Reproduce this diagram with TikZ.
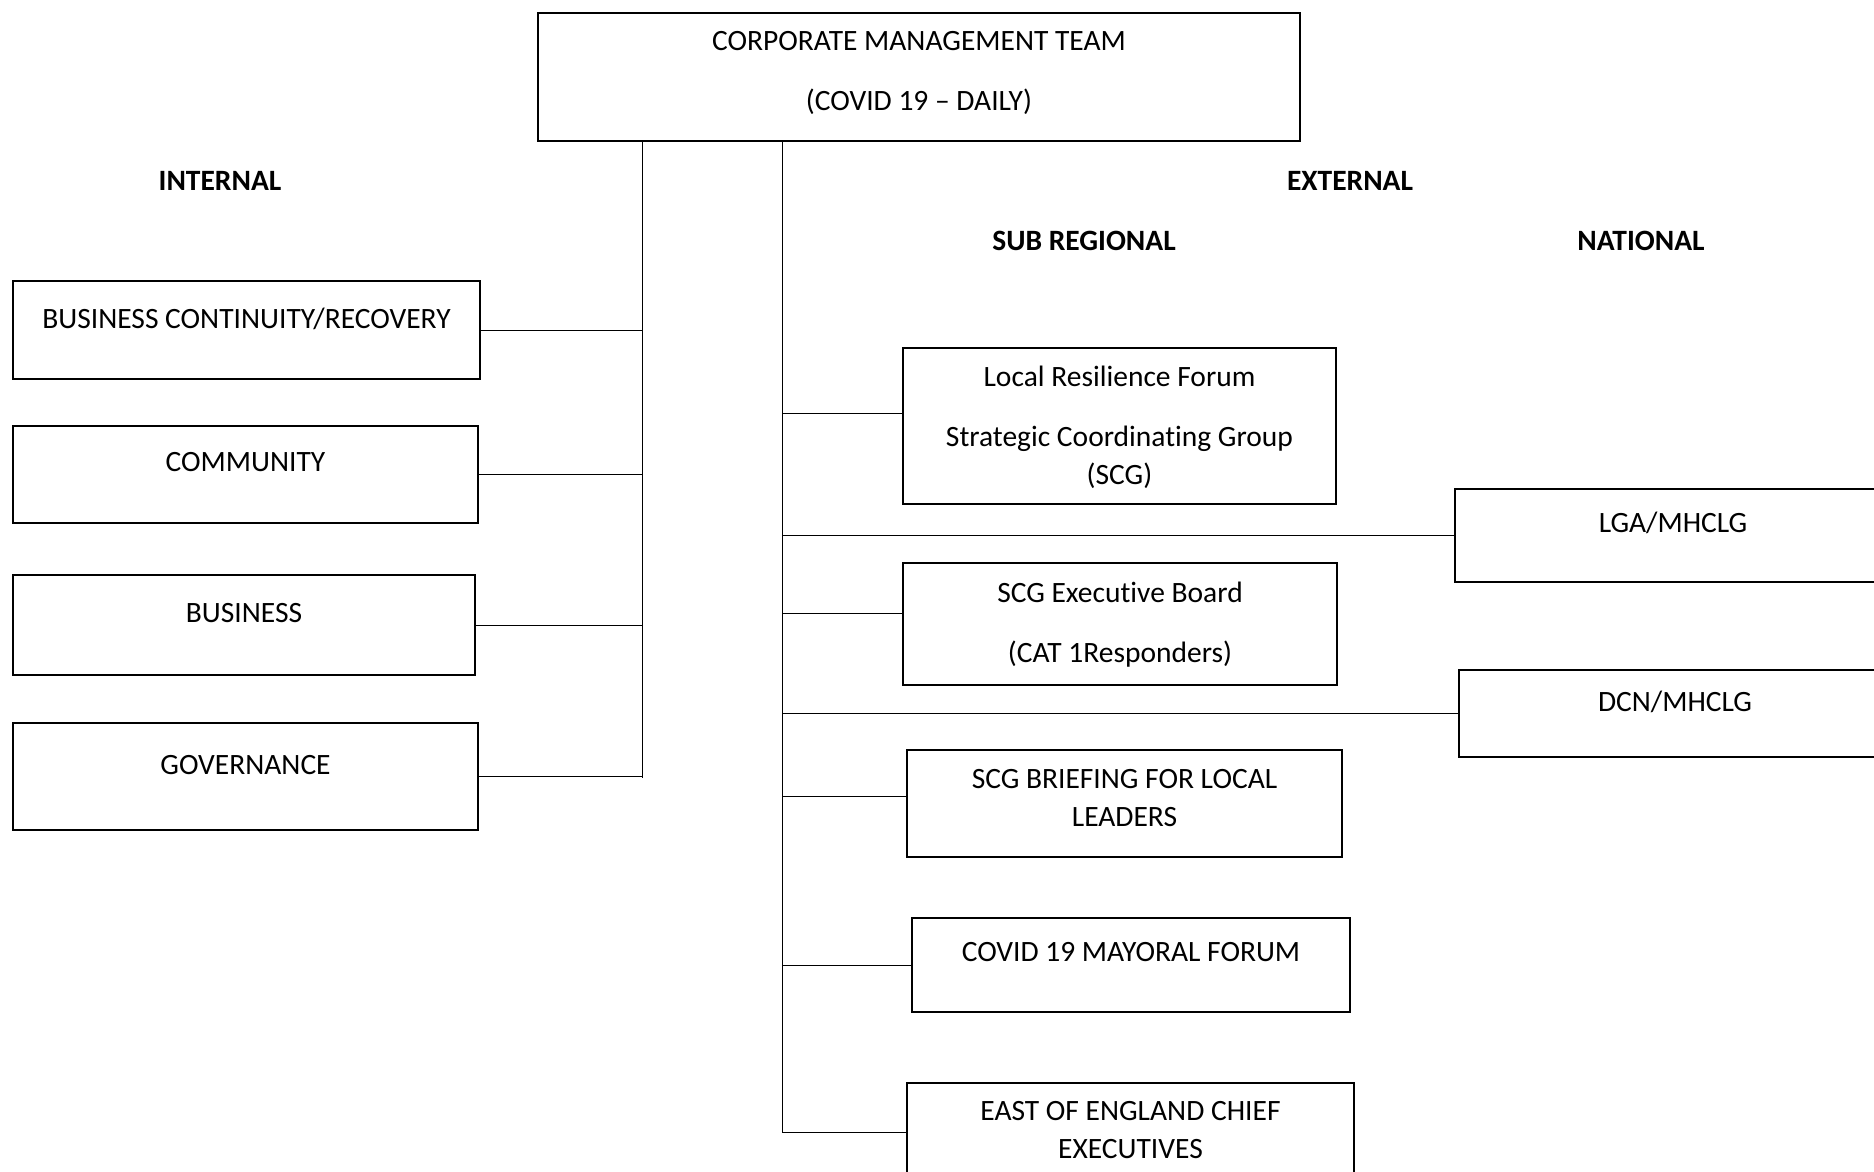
\documentclass[tikz,border=0pt]{standalone}
\usepackage{fontspec}
\setmainfont{Carlito}[Ligatures={TeX,NoCommon}]
\tikzset{
 box/.style={draw, line width=2pt, anchor=north west, inner sep=0},
 lbl/.style={anchor=north, align=center, inner sep=0},
 head/.style={font=\fontsize{29.5}{40}\selectfont\bfseries},
 link/.style={line width=1pt}
}
\begin{document}
\begin{tikzpicture}[x=1pt, y=-1pt, font=\fontsize{29.5}{38}\selectfont]
 \useasboundingbox (0,0) rectangle (1874,1172);
 % top box
 \node[box, minimum width=762pt, minimum height=128pt] (cmt) at (537,12) {};
 \node[lbl] (cmtt) at ([yshift=-19]cmt.north) {CORPORATE MANAGEMENT TEAM\\[22pt](COVID 19 – DAILY)};
 \node[head] (int) at (220,181) {INTERNAL};
 \node[head] (ext) at (1350,181) {EXTERNAL};
 \node[head] (sub) at (1084,241) {SUB REGIONAL};
 \node[head] (nat) at (1641,241) {NATIONAL};
 % internal
 \node[box, minimum width=467pt, minimum height=98pt] (bcr) at (12,280) {};
 \node[lbl] (bcrt) at ([yshift=-28]bcr.north) {BUSINESS CONTINUITY/RECOVERY};
 \node[box, minimum width=465pt, minimum height=97pt] (com) at (12,425) {};
 \node[lbl] (comt) at ([yshift=-27]com.north) {COMMUNITY};
 \node[box, minimum width=462pt, minimum height=100pt] (bus) at (12,574) {};
 \node[lbl] (bust) at ([yshift=-29]bus.north) {BUSINESS};
 \node[box, minimum width=465pt, minimum height=107pt] (gov) at (12,722) {};
 \node[lbl] (govt) at ([yshift=-33]gov.north) {GOVERNANCE};
 % sub regional
 \node[box, minimum width=433pt, minimum height=156pt] (lrf) at (902,347) {};
 \node[lbl] (lrft) at ([yshift=-19]lrf.north) {Local Resilience Forum\\[22pt]Strategic Coordinating Group\\(SCG)};
 \node[box, minimum width=434pt, minimum height=122pt] (exe) at (902,562) {};
 \node[lbl] (exet) at ([yshift=-20]exe.north) {SCG Executive Board\\[22pt](CAT 1Responders)};
 \node[box, minimum width=435pt, minimum height=107pt] (brf) at (906,749) {};
 \node[lbl] (brft) at ([yshift=-20]brf.north) {SCG BRIEFING FOR LOCAL\\LEADERS};
 \node[box, minimum width=438pt, minimum height=94pt] (may) at (911,917) {};
 \node[lbl] (mayt) at ([yshift=-25]may.north) {COVID 19 MAYORAL FORUM};
 \node[box, minimum width=447pt, minimum height=110pt] (eec) at (906,1082) {};
 \node[lbl] (eect) at ([yshift=-19]eec.north) {EAST OF ENGLAND CHIEF\\EXECUTIVES};
 % national
 \node[box, minimum width=436pt, minimum height=93pt] (lga) at (1454,488) {};
 \node[lbl] (lgat) at ([yshift=-24]lga.north) {LGA/MHCLG};
 \node[box, minimum width=432pt, minimum height=87pt] (dcn) at (1458,669) {};
 \node[lbl] (dcnt) at ([yshift=-22]dcn.north) {DCN/MHCLG};
 % trunks
 \coordinate (lt) at (642,140);
 \coordinate (lb) at (642,778);
 \coordinate (rt) at (782,140);
 \coordinate (rb) at (782,1132);
 \draw[link] (lt) -- (lb);
 \draw[link] (rt) -- (rb);
 % internal links
 \draw[link] (bcr.east) -- (bcr.east -| lt);
 \draw[link] (com.east) -- (com.east -| lt);
 \draw[link] (bus.east) -- (bus.east -| lt);
 \draw[link] (gov.east) -- (gov.east -| lt);
 % external links
 \coordinate (lrfc) at ([yshift=13]lrf.west);
 \coordinate (exec) at ([yshift=11]exe.west);
 \coordinate (brfc) at ([yshift=7]brf.west);
 \coordinate (eecc) at ([yshift=6]eec.west);
 \draw[link] (lrfc -| rt) -- (lrfc);
 \draw[link] (exec -| rt) -- (exec);
 \draw[link] (brfc -| rt) -- (brfc);
 \draw[link] (may.west -| rt) -- (may.west);
 \draw[link] (eecc -| rt) -- (eecc);
 \draw[link] (lga.west -| rt) -- (lga.west);
 \draw[link] (dcn.west -| rt) -- (dcn.west);
\end{tikzpicture}
\end{document}
